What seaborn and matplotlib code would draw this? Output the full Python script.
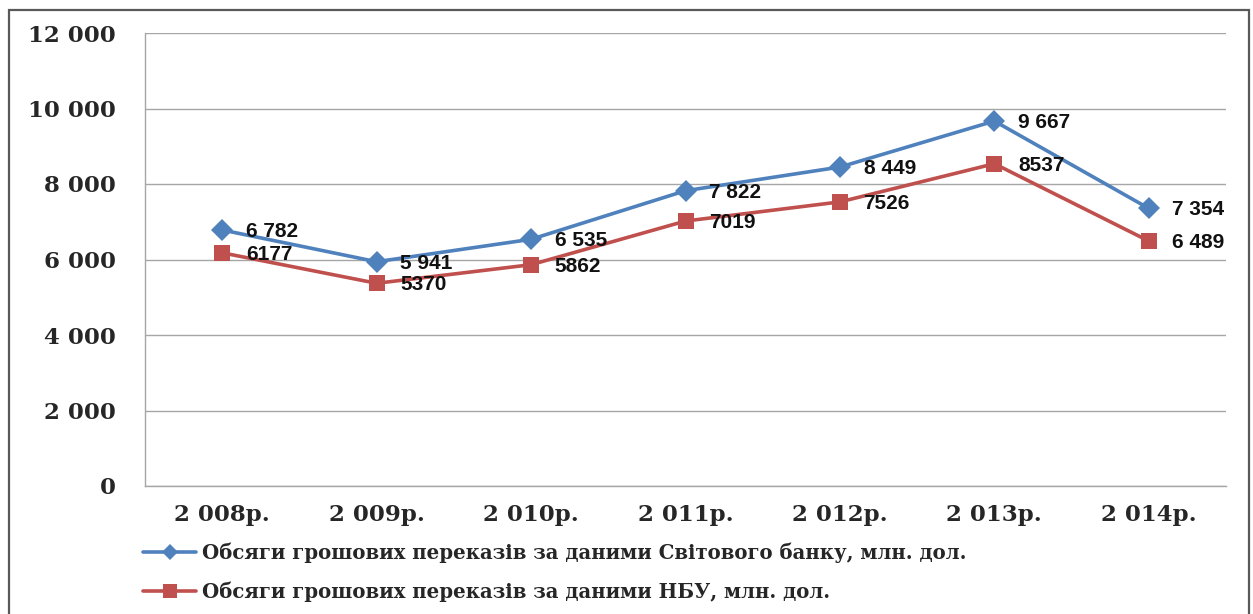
import pandas as pd
import matplotlib.pyplot as plt
import matplotlib.ticker as mticker
from matplotlib.patches import Rectangle
import seaborn as sns

# Data
years = ["2 008р.", "2 009р.", "2 010р.", "2 011р.", "2 012р.", "2 013р.", "2 014р."]
world_bank = [6782, 5941, 6535, 7822, 8449, 9667, 7354]
nbu = [6177, 5370, 5862, 7019, 7526, 8537, 6489]
world_bank_labels = ["6 782", "5 941", "6 535", "7 822", "8 449", "9 667", "7 354"]
nbu_labels = ["6177", "5370", "5862", "7019", "7526", "8537", "6 489"]
series_names = [
    "Обсяги грошових переказів за даними Світового банку, млн. дол.",
    "Обсяги грошових переказів за даними НБУ, млн. дол.",
]

sns.set_style("white")
plt.rcParams['font.family'] = ['DejaVu Serif']

blue = "#4F81BD"
red = "#C0504D"

df = pd.DataFrame({
    "pos": list(range(len(years))) * 2,
    "value": world_bank + nbu,
    "series": [series_names[0]] * len(years) + [series_names[1]] * len(years),
})

fig = plt.figure(figsize=(12.53, 6.14), dpi=100)
ax = fig.add_axes([145 / 1253, 128 / 614, 1081 / 1253, 453 / 614])

sns.lineplot(data=df, x="pos", y="value", hue="series", style="series",
             palette=[blue, red], markers=["D", "s"], dashes=False,
             linewidth=2.6, markersize=11, markeredgewidth=0, ax=ax, legend=False)

# data labels
for i in range(len(years)):
    ax.annotate(world_bank_labels[i], (i, world_bank[i]), xytext=(17, -1),
                textcoords="offset points", va="center", ha="left",
                fontsize=15, fontweight="bold", family="Liberation Sans", color="#111111")
    ax.annotate(nbu_labels[i], (i, nbu[i]), xytext=(17, -1),
                textcoords="offset points", va="center", ha="left",
                fontsize=15, fontweight="bold", family="Liberation Sans", color="#111111")

ax.set_xlim(-0.5, len(years) - 0.5)
ax.set_ylim(0, 12000)
ax.set_yticks(range(0, 12001, 2000))
ax.yaxis.set_major_formatter(mticker.FuncFormatter(lambda v, p: f"{int(v):,}".replace(",", " ")))
ax.set_xticks(range(len(years)))
ax.set_xticklabels(years)
ax.xaxis.set_minor_locator(mticker.FixedLocator([i + 0.5 for i in range(-1, len(years))]))
ax.tick_params(axis="x", which="major", length=0, pad=13)
ax.tick_params(axis="x", which="minor", length=7, color="#999999", width=1, direction="out")
ax.tick_params(axis="y", length=9, color="#999999", width=1, pad=12, direction="out")
for lab in ax.get_xticklabels() + ax.get_yticklabels():
    lab.set_fontsize(16.5)
    lab.set_fontweight("bold")

ax.grid(axis="y", color="#A6A6A6", linewidth=1)
ax.set_axisbelow(True)
for s in ["top", "right"]:
    ax.spines[s].set_visible(False)
for s in ["left", "bottom"]:
    ax.spines[s].set_color("#A6A6A6")
    ax.spines[s].set_linewidth(1)
ax.set_xlabel("")
ax.set_ylabel("")

# legend
handles = [
    plt.Line2D([], [], color=blue, marker="D", linewidth=2.6, markersize=8, markeredgewidth=0),
    plt.Line2D([], [], color=red, marker="s", linewidth=2.6, markersize=10, markeredgewidth=0),
]
fig.legend(handles, series_names, loc="upper left", bbox_to_anchor=(135 / 1253, 1 - 535 / 614),
           frameon=False, prop={"family": "DejaVu Serif", "weight": "bold", "size": 14.2},
           handlelength=2.7, handletextpad=0.3, labelspacing=0.9, borderaxespad=0)

# outer frame
fig.patches.append(Rectangle((9 / 1253, -0.02), 1240 / 1253, 1 - 10 / 614 + 0.02,
                             transform=fig.transFigure, fill=False,
                             edgecolor="#595959", linewidth=1.6))

fig.savefig("out.png", dpi=100)
